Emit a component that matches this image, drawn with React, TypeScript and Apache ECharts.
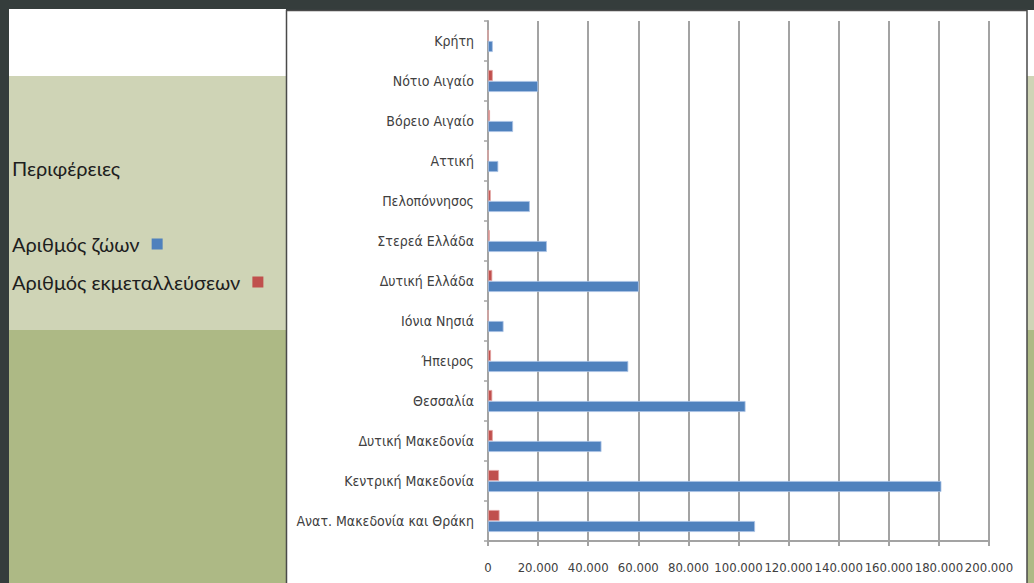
import React, { useEffect, useRef } from "react";
import * as echarts from "echarts";

// Categories listed bottom-to-top (as in the Excel chart)
const categories: string[] = [
  "Ανατ. Μακεδονία και Θράκη",
  "Κεντρική Μακεδονία",
  "Δυτική Μακεδονία",
  "Θεσσαλία",
  "Ήπειρος",
  "Ιόνια Νησιά",
  "Δυτική Ελλάδα",
  "Στερεά Ελλάδα",
  "Πελοπόννησος",
  "Αττική",
  "Βόρειο Αιγαίο",
  "Νότιο Αιγαίο",
  "Κρήτη",
];

const seriesNames: string[] = ["Αριθμός ζώων", "Αριθμός εκμεταλλεύσεων"];

const animals: number[] = [
  106600, 181000, 45300, 102800, 56000, 6200, 60200, 23500, 16700, 4100, 10000, 20000, 1900,
];

const farms: number[] = [
  4600, 4400, 1900, 1700, 1200, 0, 1700, 700, 1100, 0, 800, 1900, 0,
];

const xMin = 0;
const xMax = 200000;
const xStep = 20000;

const panelTitle = "Περιφέρειες";

function fmt(v: number): string {
  if (v === 0) return "0";
  const s = Math.round(v).toString();
  return s.replace(/\B(?=(\d{3})+(?!\d))/g, ".");
}

export default function App() {
  const ref = useRef<HTMLDivElement>(null);

  useEffect(() => {
    if (!ref.current) return;
    const chart = echarts.init(ref.current, undefined, { renderer: "svg" });
    const labelFont = "'Liberation Sans Narrow', 'DejaVu Sans Condensed', sans-serif";
    const legendFont = "Lato, 'Open Sans', sans-serif";
    const gridColor = "#a3a3a3";
    const blue = "#4f81bd";
    const red = "#c0504d";
    const legendText = {
      color: "#1e1e1e",
      fontSize: 20,
      lineHeight: 24,
      fontFamily: legendFont,
      padding: [0, 7, 0, 0],
    };
    const option: any = {
      animation: false,
      backgroundColor: "#353d3c",
      graphic: [
        { type: "rect", z: -20, silent: true, shape: { x: 9, y: 9, width: 277, height: 67 }, style: { fill: "#ffffff" } },
        { type: "rect", z: -20, silent: true, shape: { x: 9, y: 76, width: 277, height: 254 }, style: { fill: "#cfd4b6" } },
        { type: "rect", z: -20, silent: true, shape: { x: 9, y: 330, width: 277, height: 253 }, style: { fill: "#adb985" } },
        { type: "rect", z: -20, silent: true, shape: { x: 1027, y: 10, width: 7, height: 66 }, style: { fill: "#ffffff" } },
        { type: "rect", z: -20, silent: true, shape: { x: 1027, y: 76, width: 7, height: 254 }, style: { fill: "#cfd4b6" } },
        { type: "rect", z: -20, silent: true, shape: { x: 1027, y: 330, width: 7, height: 253 }, style: { fill: "#adb985" } },
        {
          type: "rect", z: -15, silent: true,
          shape: { x: 286.5, y: 10.5, width: 740.5, height: 580 },
          style: { fill: "#ffffff", stroke: "#4a4a4a", lineWidth: 1.5 },
        },
        {
          type: "text", z: 5, silent: true, x: 12, y: 168,
          style: {
            text: panelTitle, fill: "#1e1e1e", fontSize: 20,
            fontFamily: legendFont, verticalAlign: "middle",
          },
        },
      ],
      legend: [
        {
          left: 12,
          top: 232,
          padding: 0,
          align: "right",
          itemWidth: 11,
          itemHeight: 11,
          icon: "rect",
          itemStyle: { borderWidth: 0 },
          data: [seriesNames[0]],
          textStyle: legendText,
        },
        {
          left: 12,
          top: 270,
          padding: 0,
          align: "right",
          itemWidth: 11,
          itemHeight: 11,
          icon: "rect",
          itemStyle: { borderWidth: 0 },
          data: [seriesNames[1]],
          textStyle: legendText,
        },
      ],
      grid: { left: 488, right: 45, top: 21, bottom: 42, containLabel: false },
      xAxis: {
        type: "value",
        min: xMin,
        max: xMax,
        interval: xStep,
        axisLine: { show: true, lineStyle: { color: gridColor, width: 2 } },
        axisTick: { show: true, length: 5, lineStyle: { color: gridColor, width: 2 } },
        splitLine: { show: true, lineStyle: { color: gridColor, width: 2 } },
        axisLabel: {
          margin: 20,
          color: "#404040",
          fontSize: 13,
          fontFamily: labelFont,
          showMinLabel: true,
          showMaxLabel: true,
          hideOverlap: false,
          formatter: (v: number) => fmt(v),
        },
      },
      yAxis: {
        type: "category",
        data: categories,
        axisLine: { show: true, lineStyle: { color: gridColor, width: 2 } },
        axisTick: { show: true, length: 4, lineStyle: { color: gridColor, width: 1.5 } },
        splitLine: { show: false },
        axisLabel: {
          margin: 14,
          color: "#404040",
          fontSize: 14,
          fontFamily: labelFont,
        },
      },
      series: [
        {
          name: seriesNames[1],
          type: "bar",
          data: farms,
          barWidth: 11,
          barGap: "0%",
          itemStyle: { color: red, borderColor: "#e2a3a1", borderWidth: 0.8 },
        },
        {
          name: seriesNames[0],
          type: "bar",
          data: animals,
          barWidth: 11,
          barGap: "0%",
          itemStyle: { color: blue, borderColor: "#a9c2e4", borderWidth: 0.8 },
        },
      ],
    };
    chart.setOption(option);
    return () => chart.dispose();
  }, []);

  return (
    <div
      ref={ref}
      style={{ position: "fixed", left: 0, top: 0, width: 1034, height: 583 }}
    />
  );
}
